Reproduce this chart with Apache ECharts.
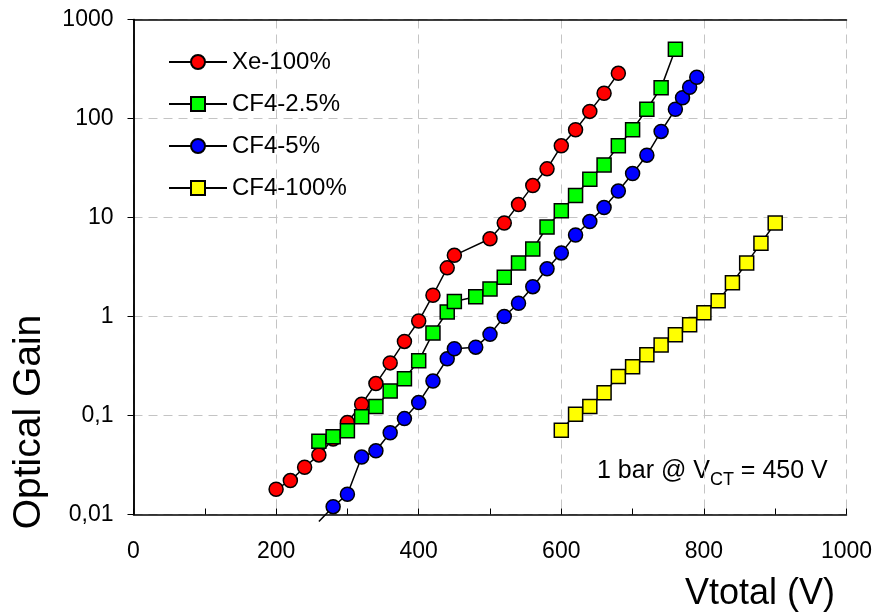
<!DOCTYPE html>
<html>
<head>
<meta charset="utf-8">
<script src="https://cdn.jsdelivr.net/npm/echarts@6/dist/echarts.min.js"></script>
<style>
  html, body { margin: 0; padding: 0; background: #fff; }
  #chart { width: 876px; height: 613px; }
</style>
</head>
<body>
<div id="chart"></div>
<script>
// 数据：电压 (V) 与光增益
const xeV = [200, 220, 240, 260, 280, 300, 320, 340, 360, 380, 400, 420, 440, 450, 500, 520, 540, 560, 580, 600, 620, 640, 660, 680]
const xeGain = [0.018, 0.022, 0.030, 0.040, 0.058, 0.085, 0.13, 0.21, 0.34, 0.56, 0.90, 1.64, 3.1, 4.15, 6.1, 8.8, 13.5, 21, 31, 53, 77, 118, 180, 286]

const cf25V = [260, 280, 300, 320, 340, 360, 380, 400, 420, 440, 450, 480, 500, 520, 540, 560, 580, 600, 620, 640, 660, 680, 700, 720, 740, 760]
const cf25Gain = [0.055, 0.061, 0.070, 0.097, 0.123, 0.177, 0.235, 0.357, 0.68, 1.11, 1.42, 1.58, 1.90, 2.49, 3.48, 4.81, 8.0, 11.7, 16.7, 24.4, 34, 53, 77, 124, 205, 500]

// 第一个点低于坐标轴下限（只画连线）
const cf5V = [260, 280, 300, 320, 340, 360, 380, 400, 420, 440, 450, 480, 500, 520, 540, 560, 580, 600, 620, 640, 660, 680, 700, 720, 740, 760, 770, 780, 790]
const cf5Gain = [0.0085, 0.012, 0.016, 0.038, 0.044, 0.067, 0.093, 0.135, 0.223, 0.374, 0.472, 0.49, 0.66, 1.0, 1.36, 2.0, 3.03, 4.39, 6.66, 9.1, 12.6, 18.5, 27.8, 42.6, 74, 124, 162, 207, 261]

const cf100V = [600, 620, 640, 660, 680, 700, 720, 740, 760, 780, 800, 820, 840, 860, 880, 900]
const cf100Gain = [0.071, 0.103, 0.123, 0.17, 0.247, 0.311, 0.411, 0.514, 0.653, 0.824, 1.09, 1.44, 2.19, 3.48, 5.48, 8.8]

const xTicks = [0, 200, 400, 600, 800, 1000]
const yMin = 0.01
const yMax = 1000

const FONT = '"Liberation Sans", Arial, sans-serif'

const makeData = (xs, ys) => xs.map((x, i) => {
    if (ys[i] < yMin) return { value: [x, ys[i]], symbol: 'none' }
    return [x, ys[i]]
})

const makeSeries = (name, symbol, color, xs, ys) => ({
    name: name,
    type: 'line',
    symbol: symbol,
    symbolSize: 14,
    clip: false,
    data: makeData(xs, ys),
    lineStyle: { color: '#000', width: 1.5 },
    itemStyle: { color: color, borderColor: '#000', borderWidth: 1.5 },
    emphasis: { disabled: true }
})

const chart = echarts.init(document.getElementById('chart'))

const dashed = { show: true, lineStyle: { color: '#c4c4c4', width: 1, type: [9, 6] } }
const blackLine = { show: true, lineStyle: { color: '#000', width: 1.5 } }
// 上边框和右边框用空轴画
const frameAxis = {
    axisLine: blackLine,
    axisTick: { show: false },
    axisLabel: { show: false },
    splitLine: { show: false }
}

chart.setOption({
    animation: false,
    backgroundColor: '#fff',
    grid: { left: 133.5, right: 29.5, top: 19.5, bottom: 98.5 },
    legend: {
        orient: 'vertical',
        left: 163,
        top: 45,
        itemWidth: 58,
        itemHeight: 17.5,
        itemGap: 18,
        selectedMode: false,
        textStyle: { fontSize: 24, color: '#000', fontFamily: FONT },
        data: ['Xe-100%', 'CF4-2.5%', 'CF4-5%', 'CF4-100%']
    },
    xAxis: [{
        type: 'value',
        min: xTicks[0],
        max: xTicks[xTicks.length - 1],
        interval: 200,
        axisLine: blackLine,
        axisTick: { show: true, inside: true, length: 6, lineStyle: { color: '#000', width: 1 } },
        minorTick: { show: true, splitNumber: 2, length: 6, lineStyle: { color: '#000', width: 1 } },
        axisLabel: { fontSize: 23, color: '#000', fontFamily: FONT, margin: 26, formatter: v => String(v) },
        splitLine: dashed
    }, Object.assign({ type: 'value', position: 'top', min: 0, max: 1000 }, frameAxis)],
    yAxis: [{
        type: 'log',
        logBase: 10,
        min: yMin,
        max: yMax,
        axisLine: blackLine,
        axisTick: { show: true, inside: false, length: 6, lineStyle: { color: '#000', width: 1 } },
        axisLabel: {
            fontSize: 23, color: '#000', fontFamily: FONT, margin: 20,
            formatter: v => String(Number(v.toPrecision(1))).replace('.', ',')
        },
        splitLine: dashed
    }, Object.assign({ type: 'value', position: 'right', min: 0, max: 1 }, frameAxis)],
    graphic: [
        {
            type: 'text', x: 29, y: 422, rotation: Math.PI / 2,
            style: { text: 'Optical Gain', font: '39px ' + FONT, fill: '#000', textAlign: 'center', textVerticalAlign: 'middle' }
        },
        {
            type: 'text', x: 760, y: 594,
            style: { text: 'Vtotal (V)', font: '36px ' + FONT, fill: '#000', textAlign: 'center', textVerticalAlign: 'middle' }
        },
        {
            type: 'text', left: 597, top: 459,
            style: {
                text: '{m|1 bar @ V}{s|CT}{m| = 450 V}',
                fill: '#000',
                rich: {
                    m: { fontSize: 25, fontFamily: FONT, lineHeight: 30, verticalAlign: 'top', fill: '#000' },
                    s: { fontSize: 18, fontFamily: FONT, lineHeight: 13, verticalAlign: 'bottom', fill: '#000' }
                }
            }
        }
    ],
    series: [
        makeSeries('Xe-100%', 'circle', '#ff0000', xeV, xeGain),
        makeSeries('CF4-2.5%', 'rect', '#00ff00', cf25V, cf25Gain),
        makeSeries('CF4-5%', 'circle', '#0000ff', cf5V, cf5Gain),
        makeSeries('CF4-100%', 'rect', '#ffff00', cf100V, cf100Gain)
    ]
})
</script>
</body>
</html>
